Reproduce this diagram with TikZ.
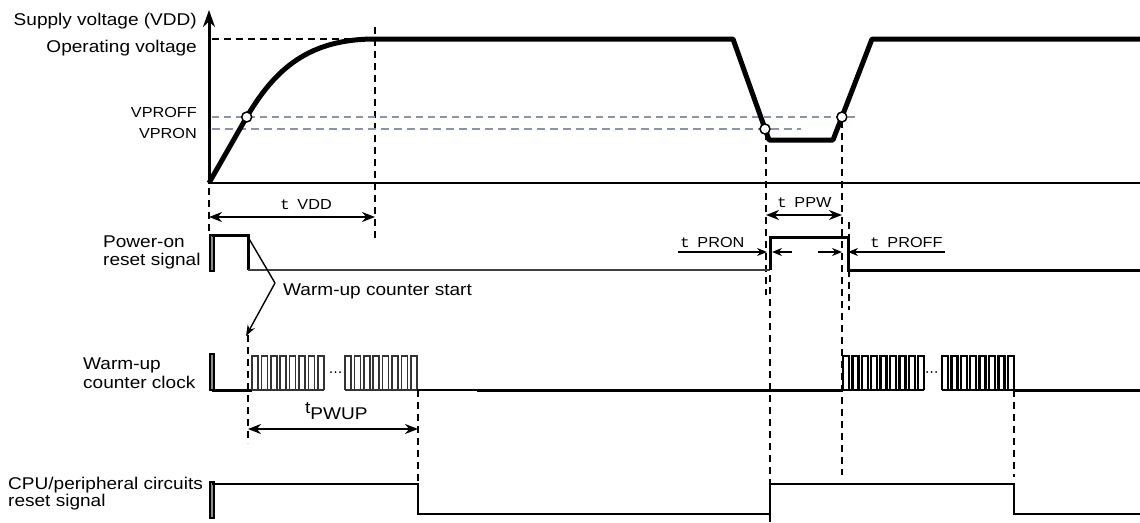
\documentclass[tikz,border=0pt]{standalone}
\usepackage{fontspec}
\setmainfont{Liberation Sans}[FakeStretch=1.12]
\newfontfamily\tfont{Liberation Mono}[FakeStretch=1.12]
\usetikzlibrary{arrows.meta}
\definecolor{vline}{RGB}{140,148,166}
\newcommand{\wuP}{9.4}
\newcommand{\wuburst}[4]{%
  \draw[#4] (#1,#3) -- ({#1+(#2-1)*\wuP+6},#3);
  \foreach \i in {1,...,#2}{%
    \draw[#4] ({#1+(\i-1)*\wuP},#3) -- ({#1+(\i-1)*\wuP},{#3-34})
      -- ({#1+(\i-1)*\wuP+6},{#3-34}) -- ({#1+(\i-1)*\wuP+6},#3);}}
\newcommand{\wstart}[2]{\draw[startbar] (#1,#2) rectangle ({#1+4.5},{#2+36});}
\newcommand{\wdots}[2]{\foreach \k in {0,1,2}{\fill ({#1+\k*4.5},#2) circle (1);}}
\tikzset{
  sig/.style={line width=3pt},
  thinsig/.style={line width=2pt},
  clkthin/.style={line width=1.5pt, black!80},
  clkthick/.style={line width=2.4pt},
  guide/.style={line width=1.3pt, dash pattern=on 7pt off 5pt},
  dimarrow/.style={{Stealth[length=13pt,width=10pt]}-{Stealth[length=13pt,width=10pt]}, line width=2pt},
  tiparrow/.style={-{Stealth[length=10pt,width=8pt]}, line width=2pt},
  startbar/.style={draw=black, line width=2pt, fill=black!45},
  lbl/.style={font=\fontsize{17}{18}\selectfont, inner sep=0pt},
  tlbl/.style={font=\fontsize{14.5}{16}\selectfont, inner sep=0pt},
  vcircle/.style={circle, draw, fill=white, line width=1.5pt, minimum size=10pt, inner sep=0pt}
}
\begin{document}
\begin{tikzpicture}[x=1pt,y=-1pt]
\useasboundingbox (0,0) rectangle (1140,522);
% guides
\draw[guide] (212,39) -- (375,39);
\draw[guide] (375,27) -- (375,240);
\draw[guide] (209,188) -- (209,232);
\draw[guide] (766,133) -- (766,295);
\draw[guide] (770,275) -- (770,522);
\draw[guide] (842,121) -- (842,475);
\draw[guide] (849,222) -- (849,310);
\draw[guide] (248,335) -- (248,443);
\draw[guide] (418,390) -- (418,484);
\draw[guide] (1014,390) -- (1014,477);
% VPROFF / VPRON levels
\draw[vline, line width=1.5pt, dash pattern=on 7pt off 5pt] (212,117) -- (857,117);
\draw[vline, line width=2.6pt, dash pattern=on 8pt off 5pt] (212,129) -- (801,129);
% axes
\draw[line width=2.6pt] (209,183) -- (1140,183);
\draw[line width=3pt, -{Stealth[length=17pt,width=12pt]}] (209,184) -- (209,10);
% VDD
\draw[line width=5pt, line join=round] (209,183) -- (245,120)
  .. controls (275,67.5) and (310,39) .. (375,39) -- (733,39) -- (769,140)
  -- (833,140) -- (872,39) -- (1140,39);
\node[vcircle] (c1) at (246.7,117) {};
\node[vcircle] (c2) at (765,129) {};
\node[vcircle] (c3) at (841.9,117) {};
\node[lbl, anchor=base east] (supply) at (197,25) {Supply voltage (VDD)};
\node[lbl, anchor=base east] (opv) at (197,52) {Operating voltage};
\node[tlbl, anchor=base east] (vproff) at (197,117) {VPROFF};
\node[tlbl, anchor=base east] (vpron) at (197,138) {VPRON};
% t VDD, t PPW
\coordinate (vddL) at (209,217);
\coordinate (vddR) at (375,217);
\draw[dimarrow] (vddL) -- (vddR);
\node[tlbl, anchor=base west] (tvdd) at (280,209) {{\tfont t}\hspace{7.5pt}VDD};
\coordinate (ppwL) at (766,215);
\coordinate (ppwR) at (842,215);
\draw[dimarrow] (ppwL) -- (ppwR);
\node[tlbl, anchor=base west] (tppw) at (777,207) {{\tfont t}\hspace{7.5pt}PPW};
% Power-on reset
\node[lbl, anchor=base west] (por) at (103,247) {Power-on};
\node[lbl, anchor=base west] (porb) at (103,265) {reset signal};
\wstart{209.5}{235}
\draw[sig] (212,235) -- (248,235) -- (248,270);
\draw[thinsig, black!75] (248,270) -- (770,270);
\draw[sig] (770,270) -- (770,237) -- (848,237) -- (848,270) -- (1140,270);
% t PRON, t PROFF
\draw[tiparrow] (678,252) -- (767,252);
\draw[tiparrow] (792,252) -- (772,252);
\node[tlbl, anchor=base west] (tpron) at (680,247) {{\tfont t}\hspace{7.5pt}PRON};
\draw[tiparrow] (818,252) -- (842,252);
\draw[tiparrow] (945,252) -- (848,252);
\node[tlbl, anchor=base west] (tproff) at (870,247) {{\tfont t}\hspace{7.5pt}PROFF};
% warm-up counter start
\coordinate (wcs) at (275,283);
\draw[line width=1.4pt] (248,237) -- (wcs);
\draw[line width=1.4pt, -{Stealth[length=11pt,width=8pt]}] (wcs) -- (246,336);
\node[lbl, anchor=base west] (wcstart) at (283,295) {Warm-up counter start};
% warm-up counter clock
\node[lbl, anchor=base west] (wuc) at (83,369) {Warm-up};
\node[lbl, anchor=base west] (wucb) at (83,388) {counter clock};
\wstart{209.5}{354}
\draw[sig] (212,390) -- (252,390);
\wuburst{252}{8}{390}{clkthin}
\wdots{331}{372}
\wuburst{345}{8}{390}{clkthin}
\draw[line width=1.5pt] (417,390) -- (477,390);
\draw[sig] (477,390) -- (843,390);
\wuburst{843}{9}{390}{clkthick}
\wdots{927}{372}
\wuburst{942}{8}{390}{clkthick}
\draw[sig] (1014,390) -- (1140,390);
% t PWUP
\coordinate (pwupL) at (248,429);
\coordinate (pwupR) at (418,429);
\draw[dimarrow] (pwupL) -- (pwupR);
\node[lbl, anchor=base west] (tpwup) at (305,413) {t\raisebox{-6pt}{PWUP}};
% CPU/peripheral reset
\node[lbl, anchor=base west] (cpu) at (8,489) {CPU/peripheral circuits};
\node[lbl, anchor=base west] (cpub) at (8,506) {reset signal};
\wstart{209.5}{482}
\draw[line width=2.2pt] (212,484) -- (418,484) -- (418,514) -- (770,514)
  -- (770,484) -- (1014,484) -- (1014,514) -- (1140,514);
\end{tikzpicture}
\end{document}
